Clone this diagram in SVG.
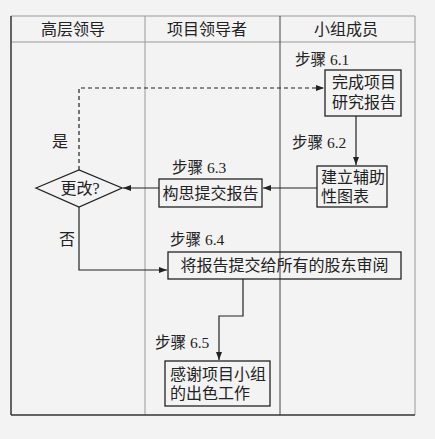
<svg xmlns="http://www.w3.org/2000/svg" width="435" height="439" viewBox="0 0 435 439">
<defs>
<marker id="ah" markerWidth="8" markerHeight="6" refX="8" refY="3" orient="auto" markerUnits="userSpaceOnUse">
<path d="M0,0 L8,3 L0,6 Z" fill="#222"/>
</marker>
</defs>
<style>
text{font-family:"Liberation Serif","Noto Sans CJK SC",serif;font-size:16px;fill:#222}
.c{text-anchor:middle}
.s{font-size:15.5px}
.box{fill:none;stroke:#222;stroke-width:1.3}
.ln{fill:none;stroke:#222;stroke-width:1.2}
.lane{stroke:#999;stroke-width:1}
</style>
<rect width="435" height="439" fill="#f3f3f3"/>
<g id="frame">
<line x1="11" y1="16" x2="415" y2="16" class="lane"/>
<line x1="415" y1="16" x2="415" y2="415" class="lane"/>
<line x1="11" y1="42" x2="415" y2="42" class="lane"/>
<line x1="145" y1="16" x2="145" y2="415" class="lane"/>
<line x1="280" y1="16" x2="280" y2="415" stroke="#444" stroke-width="1"/>
<line x1="11" y1="16" x2="11" y2="415" stroke="#333" stroke-width="1.5"/>
<line x1="11" y1="415" x2="415" y2="415" stroke="#333" stroke-width="1.5"/>
<text x="73" y="35" class="c">高层领导</text>
<text x="207" y="35" class="c">项目领导者</text>
<text x="346" y="35" class="c">小组成员</text>
</g>
<g id="connectors">
<path d="M79,170 V88 H324" class="ln" stroke-dasharray="4,3" marker-end="url(#ah)"/>
<path d="M356,116 V165" class="ln" marker-end="url(#ah)"/>
<path d="M317,188 H263" class="ln" marker-end="url(#ah)"/>
<path d="M159,188 H123" class="ln" marker-end="url(#ah)"/>
<path d="M79,207 V270 H167" class="ln" marker-end="url(#ah)"/>
<path d="M243,279 V316 H219 V360" class="ln" marker-end="url(#ah)"/>
<text x="60" y="147" class="c">是</text>
<text x="67" y="245" class="c">否</text>
</g>
<g id="n1">
<text x="295" y="65" class="s">步骤 6.1</text>
<rect x="325" y="70" width="76" height="46" class="box"/>
<text x="364" y="88" class="c">完成项目</text>
<text x="364" y="108" class="c">研究报告</text>
</g>
<g id="n2">
<text x="292" y="148" class="s">步骤 6.2</text>
<rect x="317" y="166" width="70" height="41" class="box"/>
<text x="321" y="183">建立辅助</text>
<text x="321" y="202">性图表</text>
</g>
<g id="n3">
<text x="172" y="173" class="s">步骤 6.3</text>
<rect x="159" y="179" width="103" height="28" class="box"/>
<text x="210.5" y="199" class="c">构思提交报告</text>
</g>
<g id="n-decision">
<polygon points="36,188 79,170 122,188 79,207" class="box"/>
<text x="80" y="194" class="c">更改?</text>
</g>
<g id="n4">
<text x="170" y="245" class="s">步骤 6.4</text>
<rect x="168" y="252" width="233" height="27" class="box"/>
<text x="284.5" y="271" class="c">将报告提交给所有的股东审阅</text>
</g>
<g id="n5">
<text x="155" y="348" class="s">步骤 6.5</text>
<rect x="165" y="361" width="105" height="45" class="box"/>
<text x="170" y="380">感谢项目小组</text>
<text x="170" y="399">的出色工作</text>
</g>
</svg>
